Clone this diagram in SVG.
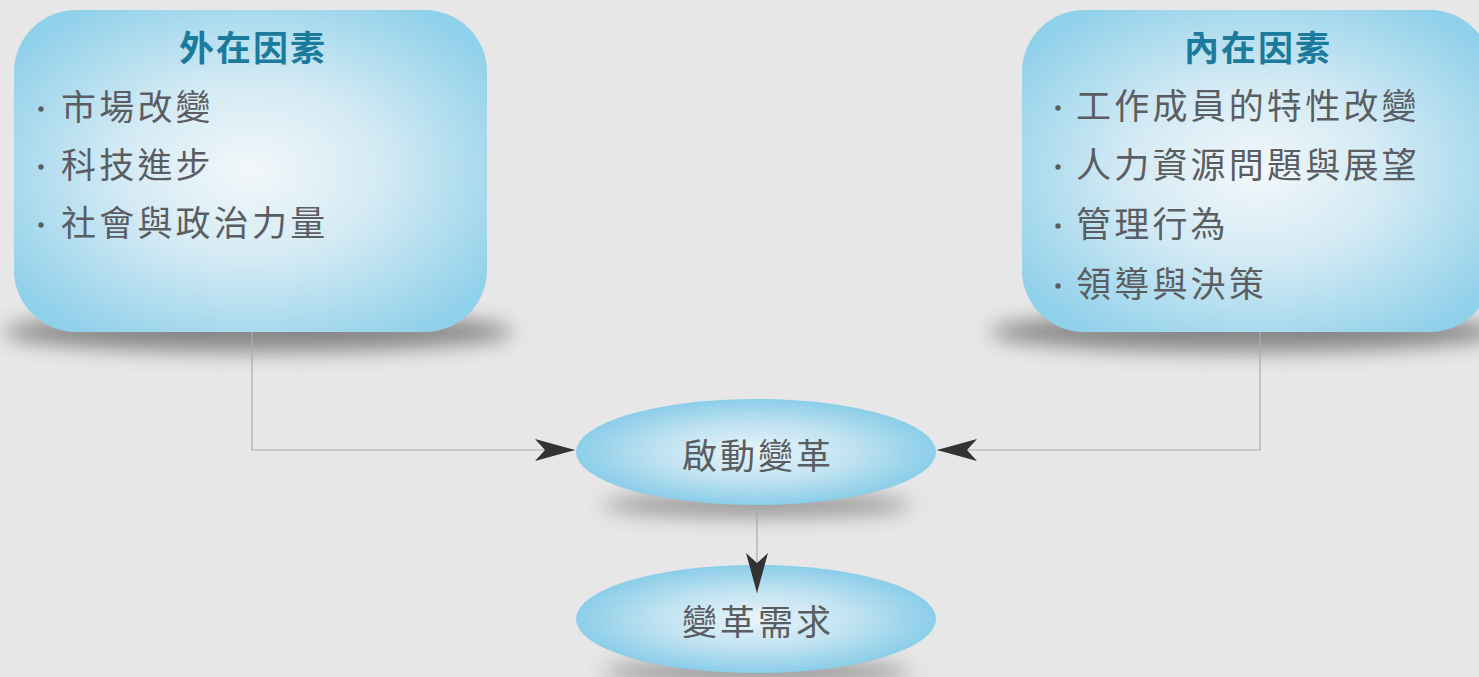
<svg xmlns="http://www.w3.org/2000/svg" width="1479" height="677" viewBox="0 0 1479 677">
  <style>
    .title { font-family: "Noto Sans CJK TC", "Noto Sans CJK SC", sans-serif; font-size: 35px; font-weight: 700; fill: #1b7b9c; text-anchor: middle; letter-spacing: 2px; }
    .item { font-family: "Noto Sans CJK TC", "Noto Sans CJK SC", sans-serif; font-size: 35px; fill: #5a5e62; letter-spacing: 3.2px; }
    .label { font-family: "Noto Sans CJK TC", "Noto Sans CJK SC", sans-serif; font-size: 35px; fill: #5a5e62; text-anchor: middle; letter-spacing: 3px; }
    .bullet { fill: #5a5e62; }
    .wire { fill: none; stroke: #a9abad; stroke-width: 1.2; }
    .shadow { fill: #4a4a4a; filter: url(#soft); }
  </style>
  <defs>
    <radialGradient id="boxFill" cx="0.5" cy="0.5" r="0.62">
      <stop offset="0" stop-color="#f2f7fa"/>
      <stop offset="0.45" stop-color="#d3eaf4"/>
      <stop offset="1" stop-color="#8fd0ea"/>
    </radialGradient>
    <radialGradient id="ovalFill" cx="0.5" cy="0.5" r="0.55">
      <stop offset="0" stop-color="#e9f4f9"/>
      <stop offset="0.5" stop-color="#bfe2f1"/>
      <stop offset="1" stop-color="#7fc9e7"/>
    </radialGradient>
    <filter id="soft" x="-20%" y="-100%" width="140%" height="300%">
      <feGaussianBlur stdDeviation="10"/>
    </filter>
    <marker id="head" markerWidth="44" markerHeight="30" viewBox="-42 -15 44 30" refX="0" refY="0" orient="auto" markerUnits="userSpaceOnUse">
      <path d="M0,0 L-40,-11 L-30,0 L-40,11 Z" fill="#333"/>
    </marker>
  </defs>

  <rect width="1479" height="677" fill="#e7e7e7"/>

  <!-- external factors -->
  <g id="external">
    <ellipse class="shadow" cx="258" cy="332" rx="255" ry="20" opacity="0.6"/>
    <rect x="14" y="10" width="473" height="322" rx="62" fill="url(#boxFill)"/>
    <text class="title" x="253" y="61">外在因素</text>
    <circle class="bullet" cx="41" cy="109" r="2.7"/>
    <text class="item" x="61" y="120">市場改變</text>
    <circle class="bullet" cx="41" cy="167" r="2.7"/>
    <text class="item" x="61" y="178">科技進步</text>
    <circle class="bullet" cx="41" cy="225" r="2.7"/>
    <text class="item" x="61" y="236">社會與政治力量</text>
  </g>

  <!-- internal factors -->
  <g id="internal">
    <ellipse class="shadow" cx="1245" cy="332" rx="255" ry="20" opacity="0.6"/>
    <rect x="1022" y="10" width="470" height="322" rx="62" fill="url(#boxFill)"/>
    <text class="title" x="1258" y="61">內在因素</text>
    <circle class="bullet" cx="1058" cy="108" r="2.7"/>
    <text class="item" x="1076" y="119">工作成員的特性改變</text>
    <circle class="bullet" cx="1058" cy="167" r="2.7"/>
    <text class="item" x="1076" y="178">人力資源問題與展望</text>
    <circle class="bullet" cx="1058" cy="226" r="2.7"/>
    <text class="item" x="1076" y="237">管理行為</text>
    <circle class="bullet" cx="1058" cy="286" r="2.7"/>
    <text class="item" x="1076" y="297">領導與決策</text>
  </g>

  <!-- start of change -->
  <g id="start">
    <ellipse class="shadow" cx="757" cy="505" rx="155" ry="12" opacity="0.5"/>
    <ellipse cx="756" cy="452" rx="180" ry="53" fill="url(#ovalFill)"/>
    <text class="label" x="758" y="469">啟動變革</text>
  </g>

  <!-- need for change -->
  <g id="need">
    <ellipse class="shadow" cx="757" cy="672" rx="155" ry="12" opacity="0.5"/>
    <ellipse cx="756" cy="619" rx="180" ry="54" fill="url(#ovalFill)"/>
    <text class="label" x="758" y="635">變革需求</text>
  </g>

  <!-- connectors, drawn last so the arrowheads sit on top of the ovals -->
  <g id="connectors">
    <path class="wire" d="M252,332 V450 H575" marker-end="url(#head)"/>
    <path class="wire" d="M1260,332 V450 H937" marker-end="url(#head)"/>
    <path class="wire" d="M757,507 V593" marker-end="url(#head)"/>
  </g>
</svg>
